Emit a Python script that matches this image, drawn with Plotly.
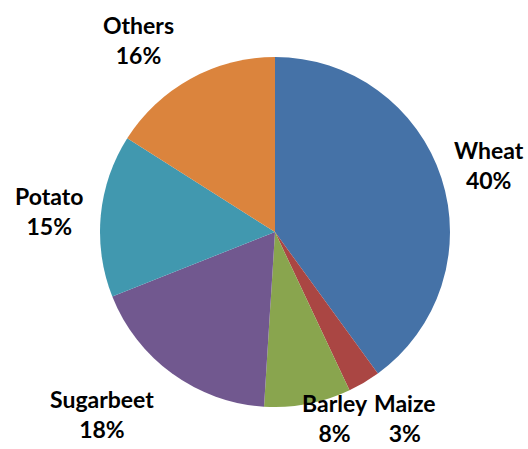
import plotly.graph_objects as go

# Crop share data
crops = ["Wheat", "Maize", "Barley", "Sugarbeet", "Potato", "Others"]
shares = [40, 3, 8, 18, 15, 16]
colors = ["#4572A7", "#AA4643", "#89A54E", "#71588F", "#4198AF", "#DB843D"]

# Label anchor points in paper coordinates (x, y)
label_pos = [(0.926, 0.632), (0.767, 0.068), (0.634, 0.068),
             (0.193, 0.077), (0.093, 0.529), (0.263, 0.912)]

W, H = 528, 449

fig = go.Figure(go.Pie(
    labels=crops,
    values=shares,
    sort=False,
    direction="clockwise",
    rotation=0,
    marker=dict(colors=colors, line=dict(width=0)),
    textinfo="none",
    hoverinfo="label+percent",
    domain=dict(x=[100 / W, 450 / W], y=[42 / H, 392 / H]),
    showlegend=False,
))

for name, val, (x, y) in zip(crops, shares, label_pos):
    fig.add_annotation(
        x=x, y=y, xref="paper", yref="paper",
        xanchor="center", yanchor="middle",
        text=f"{name}<br>{val}%",
        showarrow=False,
        font=dict(family="Lato", size=23, color="#000000", weight="bold"),
        align="center",
    )

fig.update_layout(
    width=W, height=H,
    margin=dict(l=0, r=0, t=0, b=0),
    paper_bgcolor="white",
    plot_bgcolor="white",
)

fig.write_html("out.html")
